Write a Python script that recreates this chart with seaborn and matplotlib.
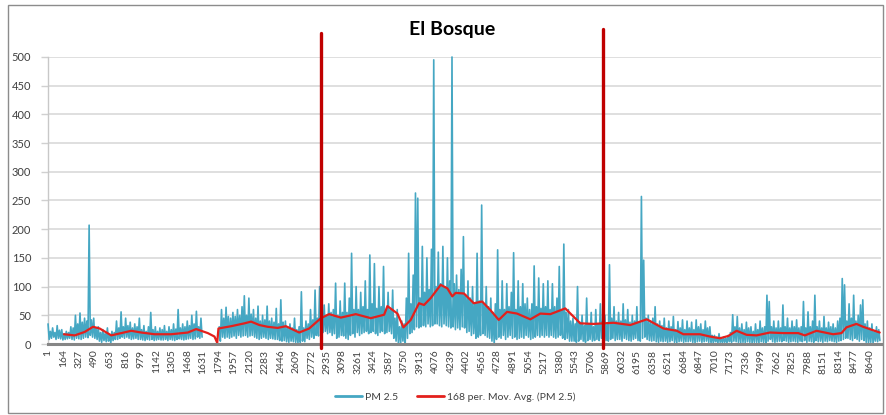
import numpy as np
import pandas as pd
import matplotlib
matplotlib.use("Agg")
import matplotlib.pyplot as plt
from matplotlib.lines import Line2D
from matplotlib.patches import Rectangle
import seaborn as sns

# ---------------- data ----------------
title = "El Bosque"
series_pm_label = "PM 2.5"
series_ma_label = "168 per. Mov. Avg. (PM 2.5)"

step_hours = 24  # one reading per 24-hour window, starting at hour 1
# upper readings of the PM 2.5 band (hour 1, 25, 49, ...)
pm25_upper = [
    35, 22, 28, 20, 32, 24, 25, 18, 22, 20,
    30, 28, 50, 35, 54, 38, 45, 40, 207, 42,
    45, 28, 30, 20, 25, 18, 28, 15, 22, 20,
    40, 28, 56, 30, 45, 32, 38, 28, 35, 30,
    45, 25, 32, 22, 30, 55, 25, 30, 22, 28,
    25, 32, 22, 30, 25, 35, 26, 60, 28, 35,
    30, 40, 32, 50, 35, 57, 30, 45, np.nan, np.nan,
    np.nan, np.nan, np.nan, np.nan, np.nan, 30, 60, 45, 64, 48,
    45, 55, 48, 60, 50, 65, 84, 50, 80, 52,
    60, 45, 66, 40, 50, 42, 66, 40, 45, 38,
    62, 35, 77, 38, 40, 30, 35, 28, 45, 25,
    30, 91, 28, 40, 35, 60, 42, 94, 45, 100,
    55, 68, 50, 70, 55, 60, 106, 50, 75, 55,
    106, 55, 80, 158, 60, 100, 60, 90, 65, 110,
    60, 155, 70, 140, 62, 100, 65, 135, 60, 90,
    60, 94, 45, 60, 30, 40, 35, 80, 158, 70,
    120, 263, 254, 80, 170, 90, 150, 95, 165, 495,
    100, 160, 105, 170, 100, 150, 110, 500, 105, 120,
    95, 130, 187, 85, 110, 80, 100, 70, 158, 75,
    242, 70, 100, 65, 80, 55, 70, 164, 60, 110,
    60, 105, 65, 90, 159, 60, 110, 65, 105, 70,
    80, 60, 70, 136, 65, 115, 62, 105, 65, 110,
    60, 105, 65, 80, 135, 60, 174, 55, 60, 40,
    45, 35, 100, 38, 50, 32, 80, 35, 55, 30,
    60, 35, 70, 40, 50, 35, 138, 45, 65, 40,
    55, 40, 70, 42, 60, 38, 50, 40, 65, 38,
    257, 146, 45, 50, 40, 45, 65, 35, 40, 32,
    45, 28, 40, 30, 48, 25, 39, 28, 42, 25,
    40, 28, 38, 25, 42, 30, 35, 25, 40, 28,
    30, 15, 15, 12, 18, 10, 12, 10, 15, 20,
    51, 30, 48, 28, 35, 25, 38, 28, 30, 22,
    35, 25, 40, 28, 30, 85, 74, 30, 40, 28,
    40, 28, 68, 30, 45, 28, 40, 30, 42, 28,
    30, 74, 28, 56, 30, 40, 85, 30, 40, 28,
    48, 28, 38, 30, 35, 28, 40, 45, 114, 103,
    40, 70, 45, 85, 40, 50, 68, 77, 35, 40,
    28, 35, 22, 30, 25,
]
# lower readings of the PM 2.5 band (hour 13, 37, 61, ...)
pm25_lower = [
    8, 10, 12, 8, 10, 9, 7, 8, 9, 10,
    8, 7, 10, 9, 8, 10, 12, 11, 15, 12,
    10, 8, 5, 3, 6, 4, 5, 2, 6, 8,
    8, 10, 12, 10, 12, 10, 8, 9, 10, 8,
    8, 7, 6, 8, 7, 8, 6, 7, 8, 7,
    7, 8, 6, 8, 7, 6, 8, 9, 8, 7,
    8, 9, 10, 8, 9, 12, 10, 12, np.nan, np.nan,
    np.nan, np.nan, np.nan, np.nan, np.nan, 5, 12, 10, 12, 10,
    12, 14, 10, 15, 12, 14, 15, 12, 14, 15,
    12, 10, 8, 10, 12, 10, 8, 10, 9, 8,
    8, 6, 5, 6, 4, 3, 5, 4, 3, 2,
    3, 5, 4, 10, 8, 12, 10, 15, 14, 20,
    20, 22, 18, 20, 15, 18, 10, 12, 15, 14,
    10, 8, 15, 18, 12, 20, 15, 18, 20, 22,
    18, 20, 22, 18, 15, 20, 22, 18, 20, 22,
    18, 10, 5, 2, 0, 5, 2, 10, 18, 20,
    25, 30, 28, 30, 32, 30, 35, 30, 32, 35,
    35, 32, 30, 35, 32, 30, 28, 30, 25, 28,
    25, 30, 28, 20, 22, 15, 18, 10, 12, 15,
    18, 15, 12, 10, 5, 0, 8, 12, 10, 15,
    8, 12, 15, 10, 12, 8, 10, 12, 10, 15,
    12, 8, 10, 12, 15, 12, 15, 12, 15, 12,
    15, 12, 10, 12, 15, 10, 8, 10, 5, 5,
    5, 3, 5, 8, 5, 3, 6, 8, 5, 6,
    8, 6, 10, 8, 6, 5, 8, 10, 6, 8,
    8, 5, 10, 8, 6, 5, 8, 10, 6, 5,
    10, 12, 8, 6, 5, 6, 4, 3, 5, 4,
    5, 3, 4, 6, 3, 2, 4, 5, 3, 4,
    4, 5, 3, 2, 4, 5, 3, 4, 5, 3,
    3, 2, 4, 1, 3, 2, 3, 2, 4, 3,
    5, 4, 3, 2, 3, 2, 4, 3, 2, 3,
    3, 2, 4, 3, 2, 5, 8, 4, 3, 4,
    5, 4, 6, 5, 3, 4, 5, 4, 3, 5,
    4, 6, 3, 5, 4, 3, 6, 4, 5, 3,
    5, 4, 6, 5, 4, 3, 5, 6, 8, 10,
    10, 8, 6, 10, 8, 5, 8, 6, 3, 2,
    3, 2, 5, 4, 6,
]

ma_hours = [168, 281, 386, 474, 544, 666, 771, 876, 981, 1121,
            1296, 1471, 1559, 1681, 1751, 1780, 1793, 1926, 2066, 2136,
            2224, 2310, 2415, 2502, 2642, 2747, 2870, 2957, 3080, 3237,
            3395, 3535, 3570, 3675, 3738, 3815, 3902, 3955, 4025, 4130,
            4200, 4252, 4287, 4375, 4478, 4566, 4653, 4741, 4828, 4933,
            5073, 5178, 5283, 5440, 5598, 5738, 5948, 6123, 6298, 6473,
            6613, 6682, 6857, 6962, 7067, 7155, 7242, 7347, 7452, 7592,
            7732, 7890, 7960, 8082, 8257, 8345, 8397, 8502, 8572, 8677,
            8747]
ma_values = [17, 15, 21, 30, 27, 15, 19, 23, 20, 17,
             17, 20, 26, 19, 13, 2, 27, 31, 36, 39,
             33, 30, 28, 31, 20, 27, 45, 52, 46, 52,
             45, 51, 66, 53, 29, 42, 71, 68, 80, 103,
             97, 83, 89, 88, 71, 74, 59, 42, 56, 53,
             43, 53, 52, 62, 36, 35, 37, 33, 43, 27,
             23, 17, 17, 13, 10, 14, 23, 16, 15, 20,
             19, 19, 15, 23, 17, 19, 29, 35, 30, 24,
             20]

marker_hours = [2875, 5841]        # the two red vertical markers
marker_tops = [541, 549]           # value reached by the top of each marker

x_tick_labels = [str(1 + 163 * k) for k in range(54)]
y_ticks = list(range(0, 501, 50))
n_hours = 8760

# ---------------- styling ----------------
CYAN = "#45a7c3"
RED = "#e3201c"
DARK_RED = "#c00000"
TXT = "#404040"

sns.set_theme(style="white")
plt.rcParams["font.family"] = ["Lato", "DejaVu Sans"]

fig = plt.figure(figsize=(8.86, 4.15), dpi=100)
W, H = 886, 415
ax_left, ax_right, ax_top, ax_bottom = 48, 881, 57, 344
ax = fig.add_axes([ax_left / W, 1 - ax_bottom / H,
                   (ax_right - ax_left) / W, (ax_bottom - ax_top) / H])

# interleave the upper and lower readings into one hourly-indexed series
up_hours = 1 + step_hours * np.arange(len(pm25_upper))
lo_hours = up_hours + step_hours // 2
df = pd.DataFrame({
    "hour": np.concatenate([up_hours, lo_hours]),
    "pm": np.concatenate([np.asarray(pm25_upper, float),
                          np.asarray(pm25_lower, float)]),
}).sort_values("hour").reset_index(drop=True)
df["run"] = df["pm"].isna().cumsum()
df_valid = df.dropna()
for _, seg in df_valid.groupby("run"):
    sns.lineplot(data=seg, x="hour", y="pm", ax=ax, color=CYAN, lw=1.2,
                 estimator=None, sort=False, legend=False, clip_on=False,
                 zorder=3)

dfm = pd.DataFrame({"hour": ma_hours, "ma": ma_values})
sns.lineplot(data=dfm, x="hour", y="ma", ax=ax, color=RED, lw=1.6,
             estimator=None, sort=False, legend=False, zorder=4)

ax.set_xlim(0.5, n_hours + 0.5)
ax.set_ylim(0, 500)
ax.set_yticks(y_ticks)
ax.set_yticklabels([str(v) for v in y_ticks], fontsize=8, color=TXT)
ax.set_xticks([1 + 163 * k for k in range(54)])
ax.set_xticklabels(x_tick_labels, rotation=90, fontsize=7.5, color=TXT)
ax.tick_params(axis="y", length=5, width=1.0, color="#d0d0d0", pad=7,
               left=True)
ax.tick_params(axis="x", length=0, pad=4)
ax.set_xlabel("")
ax.set_ylabel("")

ax.grid(axis="y", color="#d9d9d9", lw=1.2)
ax.grid(axis="x", visible=False)
ax.set_axisbelow(True)
for s in ["top", "right"]:
    ax.spines[s].set_visible(False)
ax.spines["left"].set_color("#c8c8c8")
ax.spines["left"].set_linewidth(1.0)
ax.spines["bottom"].set_color("#868686")
ax.spines["bottom"].set_linewidth(2.2)
ax.spines["bottom"].set_zorder(5)

for h, top in zip(marker_hours, marker_tops):
    ax.axvline(h, ymin=-0.014, ymax=top / 500, color=DARK_RED, lw=2.4,
               clip_on=False, zorder=6)

fig.text(452 / W, 1 - 30 / H, title, ha="center", va="center",
         fontsize=14, fontweight="bold", color="#000000")

handles = [Line2D([], [], color=CYAN, lw=2.0),
           Line2D([], [], color=RED, lw=2.0)]
fig.legend(handles, [series_pm_label, series_ma_label], loc="center",
           bbox_to_anchor=(455 / W, 1 - 397 / H), ncol=2, frameon=False,
           fontsize=7.5, handlelength=2.6, handletextpad=0.3,
           columnspacing=1.8, labelcolor=TXT)

fig.patches.append(Rectangle((8 / W, 1 - 413 / H), (883 - 8) / W, (413 - 5) / H,
                             transform=fig.transFigure, fill=False,
                             edgecolor="#8c8c8c", lw=1.0))

fig.savefig("out.png", dpi=100, facecolor="white")
